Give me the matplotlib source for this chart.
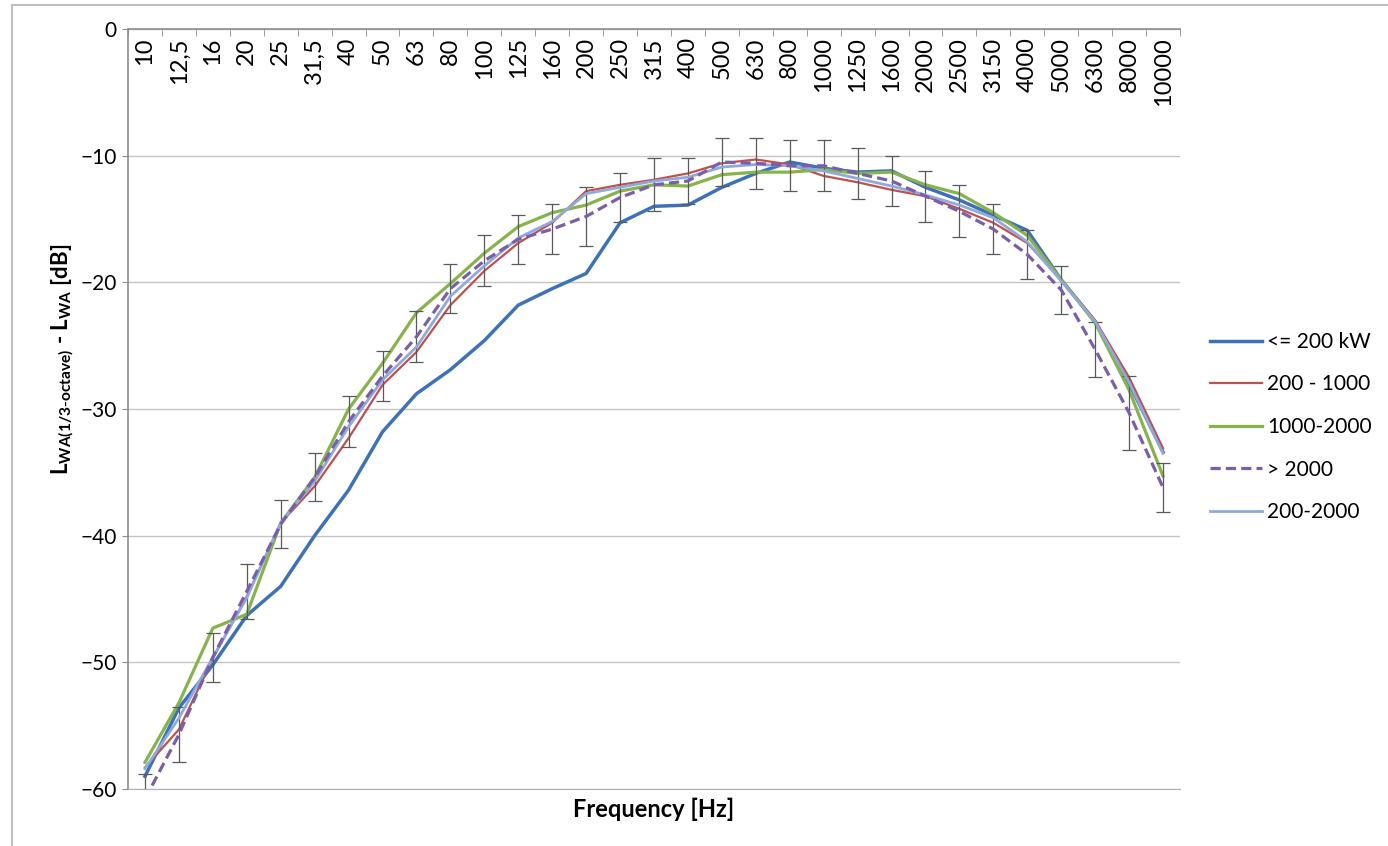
import numpy as np
import matplotlib
matplotlib.use("Agg")
import matplotlib.pyplot as plt
from matplotlib import rc
from matplotlib.lines import Line2D

# text:
rc('mathtext', default='regular')
plt.rcParams['font.family'] = ['Lato', 'DejaVu Sans']

# 1/3-octave band centre frequencies
freqs = ["10", "12,5", "16", "20", "25", "31,5", "40", "50", "63", "80",
         "100", "125", "160", "200", "250", "315", "400", "500", "630", "800",
         "1000", "1250", "1600", "2000", "2500", "3150", "4000", "5000", "6300",
         "8000", "10000"]

le_200 = [-59.0, -53.6, -50.2, -46.3, -44.0, -40.0, -36.4, -31.8, -28.8, -26.9,
          -24.6, -21.8, -20.5, -19.3, -15.3, -14.0, -13.9, -12.5, -11.4, -10.5,
          -11.0, -11.3, -11.2, -12.5, -13.5, -14.7, -15.9, -19.8, -23.1, -28.0,
          -33.4]
r200_1000 = [-58.3, -55.3, -49.7, -44.8, -39.0, -36.1, -32.3, -28.1, -25.5, -21.8,
             -19.1, -16.9, -15.3, -12.8, -12.3, -11.9, -11.4, -10.6, -10.3, -10.7,
             -11.6, -12.1, -12.7, -13.2, -14.2, -15.3, -16.9, -19.8, -23.0, -27.5,
             -33.1]
r1000_2000 = [-57.9, -53.2, -47.3, -46.2, -39.0, -35.4, -30.0, -26.4, -22.4, -20.1,
              -17.7, -15.6, -14.5, -13.9, -12.8, -12.3, -12.4, -11.5, -11.3, -11.3,
              -11.1, -11.4, -11.3, -12.3, -13.0, -14.5, -16.3, -19.8, -23.2, -28.5,
              -35.3]
gt_2000 = [-60.8, -55.7, -49.6, -44.4, -39.1, -35.4, -31.0, -27.4, -24.3, -20.5,
           -18.3, -16.6, -15.8, -14.8, -13.3, -12.3, -12.0, -10.5, -10.6, -10.8,
           -10.8, -11.4, -12.0, -13.2, -14.4, -15.8, -17.8, -20.6, -25.3, -30.3,
           -36.2]
gt_2000_err = [2.0, 2.2, 1.95, 2.2, 1.9, 1.9, 2.0, 2.0, 2.0, 1.95,
               2.0, 1.95, 1.95, 2.3, 1.95, 2.1, 1.8, 1.9, 2.0, 2.0,
               2.0, 2.0, 2.0, 2.0, 2.05, 1.95, 1.95, 1.9, 2.2, 2.9,
               1.95]
r200_2000 = [-58.4, -54.4, -49.6, -44.9, -39.0, -35.7, -31.4, -27.7, -25.1, -21.1,
             -18.7, -16.5, -15.2, -13.0, -12.5, -12.0, -11.7, -10.9, -10.7, -10.8,
             -11.2, -11.8, -12.4, -13.1, -13.9, -14.9, -16.8, -19.9, -23.1, -27.9,
             -33.5]

x = np.arange(len(freqs))

fig = plt.figure(figsize=(13.88, 8.46), dpi=100)
ax = fig.add_axes([128/1388, 57/846, 1052/1388, 760/846])

l1, = ax.plot(x, le_200, color="#3D72B8", lw=2.5, label="<= 200 kW")
l2, = ax.plot(x, r200_1000, color="#C0504D", lw=1.6, label="200 - 1000")
l3, = ax.plot(x, r1000_2000, color="#86B34A", lw=2.3, label="1000-2000")
eb = ax.errorbar(x, gt_2000, yerr=gt_2000_err, color="#7A5FA8", lw=2.3,
                 dashes=(3.2, 1.6), ecolor="#595959", elinewidth=0.9, capsize=5,
                 capthick=0.9)
l5, = ax.plot(x, r200_2000, color="#8EAADB", lw=2.0, label="200-2000")
l4 = Line2D([], [], color="#7A5FA8", lw=2.3, dashes=(3.2, 1.6), label="> 2000")

ax.set_xlim(-0.5, len(freqs) - 0.5)
ax.set_ylim(-60, 0)
ax.set_yticks(np.arange(-60, 1, 10))
ax.yaxis.grid(True, color="#C4C4C4", lw=1.0)
ax.set_axisbelow(True)

# category labels hang under the top axis line
ax.set_xticks(x)
ax.set_xticklabels(freqs, rotation=90, va="top", fontsize=17)
ax.set_xticks(np.arange(-0.5, len(freqs), 1), minor=True)
ax.tick_params(axis="x", which="major", top=True, bottom=False, labeltop=True,
               labelbottom=False, length=0, pad=-6)
ax.tick_params(axis="x", which="minor", top=True, bottom=False, direction="in",
               length=5, color="#8C8C8C")
ax.tick_params(axis="y", which="major", direction="out", length=4, color="#8C8C8C",
               labelsize=15, pad=4)

for s in ["left", "top"]:
    ax.spines[s].set_color("#8C8C8C")
    ax.spines[s].set_linewidth(1.2)
ax.spines["bottom"].set_color("#B0B0B0")
ax.spines["right"].set_visible(False)

ax.xaxis.set_label_position("bottom")
ax.set_xlabel("Frequency [Hz]", fontsize=17, fontweight="bold", labelpad=3)
ax.set_ylabel(r"L$_{WA(1/3\text{-}octave)}$ - L$_{WA}$ [dB]", fontsize=16,
              fontweight="bold")
ax.yaxis.set_label_coords(-0.049, 0.565)

fig.legend(handles=[l1, l2, l3, l4, l5], loc="center left",
           bbox_to_anchor=(1191/1388, 1 - 427/846), frameon=False, fontsize=15,
           handlelength=2.5, handletextpad=0.25, labelspacing=1.08)

# chart area border
fig.add_artist(Line2D([12/1388, 12/1388], [0, 1 - 5/846], transform=fig.transFigure,
                      color="#BFBFBF", lw=1.5))
fig.add_artist(Line2D([12/1388, 1], [1 - 5/846, 1 - 5/846], transform=fig.transFigure,
                      color="#BFBFBF", lw=1.5))

fig.savefig("out.png", dpi=100)
